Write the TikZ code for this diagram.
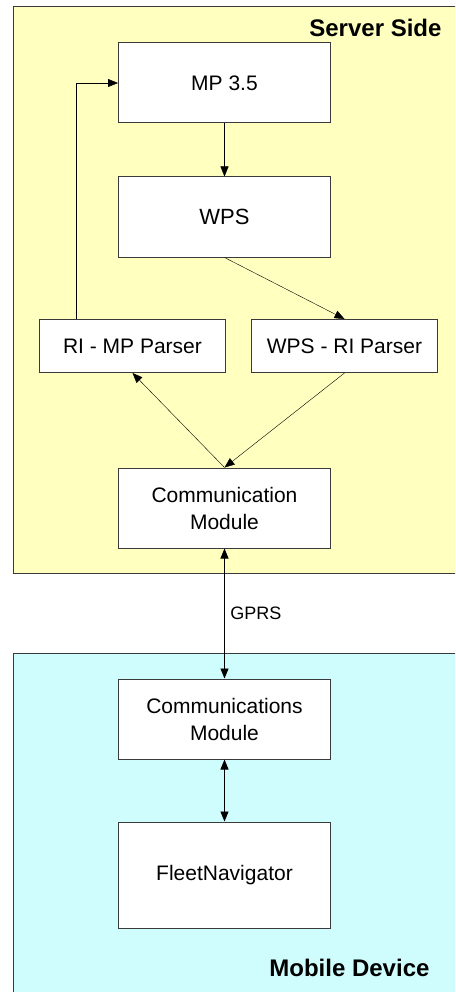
\documentclass[tikz,border=0pt]{standalone}
\usepackage{fontspec}
\setmainfont{Liberation Sans}
\usetikzlibrary{arrows.meta}

\definecolor{serverbg}{HTML}{FFFFC0}
\definecolor{mobilebg}{HTML}{CFFCFC}
\definecolor{edgegray}{HTML}{3A3A3A}

\tikzset{
  block/.style={draw=edgegray, fill=white, line width=1pt, minimum width=212pt,
    minimum height=80pt, inner sep=0pt, align=center,
    font=\fontsize{21}{27}\selectfont},
  parser/.style={block, minimum width=186pt, minimum height=53pt},
  panel/.style={draw=edgegray, line width=1pt},
  title/.style={anchor=east, font=\bfseries\fontsize{24}{28}\selectfont},
  >={Triangle[length=10pt,width=8pt]}
}

\begin{document}
\begin{tikzpicture}[x=1pt,y=-1pt]
  \clip (0,0) rectangle (455,992);
  \fill [white] (0,0) rectangle (455,992);
  \draw [panel, fill=serverbg] (13,7)   rectangle (470,573);
  \draw [panel, fill=mobilebg] (13,653) rectangle (470,1000);

  \node [title] (srv) at (445,28)  {Server Side};
  \node [title] (mob) at (433,968) {Mobile Device};

  \node [block]  (mp)    at (224.5,83)  {MP 3.5};
  \node [block, font=\fontsize{22}{27}\selectfont]
                 (wps)   at (224.5,217) {WPS};
  \node [parser] (rimp)  at (132.5,346) {RI - MP Parser};
  \node [parser] (wpsri) at (344.5,346) {WPS - RI Parser};
  \node [block]  (comm)  at (224.5,508) {Communication\\Module};
  \node [block]  (comms) at (224.5,719) {Communications\\Module};
  \node [block, minimum height=106pt]
                 (fleet) at (224.5,875) {FleetNavigator};

  \draw [->] (mp) -- (wps);
  \draw [->] (wps.south) -- (wpsri.north);
  \draw [->] ([xshift=37pt]rimp.north west) |- (mp.west);
  \draw [->] (comm.north) -- (rimp.south);
  \draw [->] (wpsri.south) -- (comm.north);
  \draw [<->, line width=0.9pt] (comm) -- node [right, xshift=2pt,
    font=\fontsize{18}{20}\selectfont] (gprs) {GPRS} (comms);
  \draw [<->, line width=0.9pt] (comms) -- (fleet);
\end{tikzpicture}
\end{document}
